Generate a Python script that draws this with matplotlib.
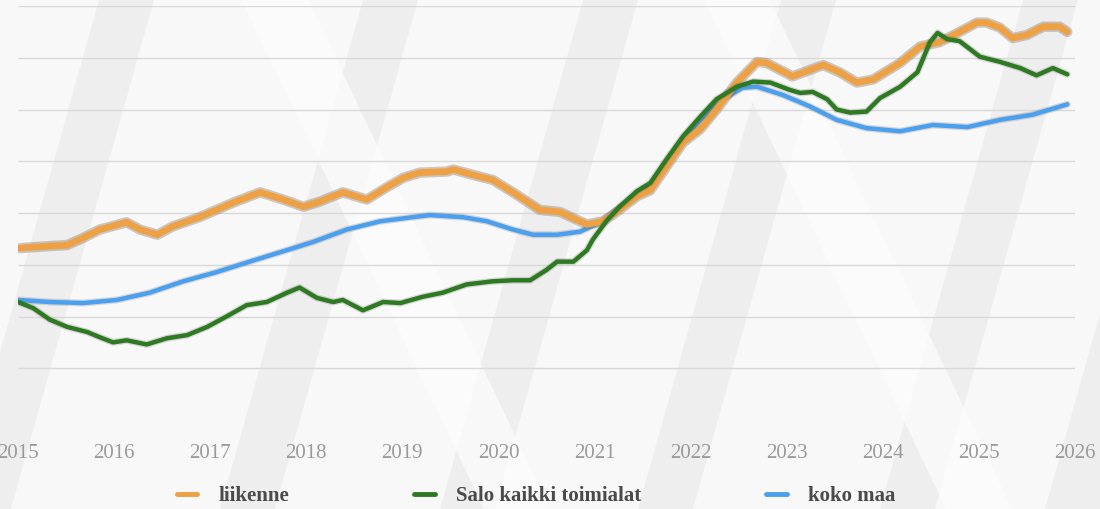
import matplotlib
matplotlib.use("Agg")
import matplotlib.pyplot as plt
import matplotlib.patheffects as pe
from matplotlib.patches import Polygon

# values (no y scale shown, index units)
liikenne_x = [2015.02, 2015.16, 2015.33, 2015.51, 2015.68, 2015.85, 2016.13, 2016.27, 2016.45, 2016.61,
              2016.89, 2017.24, 2017.52, 2017.76, 2017.97, 2018.14, 2018.38, 2018.63, 2018.84, 2019.01,
              2019.18, 2019.46, 2019.53, 2019.81, 2019.94, 2020.15, 2020.43, 2020.64, 2020.92, 2021.09,
              2021.23, 2021.44, 2021.58, 2021.92, 2022.10, 2022.27, 2022.48, 2022.69, 2022.79, 2023.06,
              2023.38, 2023.55, 2023.73, 2023.90, 2024.18, 2024.39, 2024.59, 2024.80, 2024.98, 2025.08,
              2025.22, 2025.35, 2025.50, 2025.67, 2025.84, 2025.92]
liikenne_y = [96.6, 96.7, 96.8, 96.9, 97.6, 98.4, 99.1, 98.4, 97.9, 98.7,
              99.6, 101.0, 102.0, 101.3, 100.6, 101.1, 102.0, 101.3, 102.5, 103.4,
              103.9, 104.0, 104.2, 103.5, 103.2, 102.0, 100.3, 100.1, 98.9, 99.2,
              100.1, 101.6, 102.2, 106.8, 108.1, 110.0, 112.6, 114.6, 114.5, 113.2,
              114.3, 113.6, 112.6, 112.9, 114.5, 116.1, 116.5, 117.5, 118.4, 118.4,
              117.9, 116.9, 117.2, 118.0, 118.0, 117.5]

salo_x = [2015.00, 2015.16, 2015.33, 2015.51, 2015.72, 2015.85, 2015.99, 2016.13, 2016.34, 2016.55,
          2016.76, 2016.97, 2017.17, 2017.38, 2017.59, 2017.80, 2017.93, 2018.11, 2018.28, 2018.38,
          2018.59, 2018.80, 2018.98, 2019.21, 2019.42, 2019.67, 2019.94, 2020.15, 2020.33, 2020.50,
          2020.61, 2020.78, 2020.92, 2020.98, 2021.13, 2021.26, 2021.44, 2021.58, 2021.75, 2021.92,
          2022.10, 2022.27, 2022.48, 2022.65, 2022.83, 2023.03, 2023.14, 2023.27, 2023.42, 2023.52,
          2023.66, 2023.83, 2023.97, 2024.18, 2024.36, 2024.49, 2024.57, 2024.67, 2024.80, 2025.01,
          2025.22, 2025.43, 2025.60, 2025.77, 2025.92]
salo_y = [91.4, 90.8, 89.7, 89.0, 88.5, 88.0, 87.5, 87.7, 87.3, 87.9,
          88.2, 89.0, 90.0, 91.1, 91.4, 92.3, 92.8, 91.8, 91.4, 91.6,
          90.6, 91.4, 91.3, 91.9, 92.3, 93.1, 93.4, 93.5, 93.5, 94.5,
          95.3, 95.3, 96.4, 97.4, 99.3, 100.6, 102.1, 102.9, 105.2, 107.4,
          109.3, 111.0, 112.2, 112.7, 112.6, 111.9, 111.6, 111.7, 111.0, 110.0,
          109.7, 109.8, 111.1, 112.2, 113.6, 116.5, 117.4, 116.8, 116.6, 115.1,
          114.6, 114.0, 113.3, 114.0, 113.4]

koko_x = [2015.00, 2015.33, 2015.68, 2016.03, 2016.37, 2016.72, 2017.07, 2017.41, 2017.76, 2018.07,
          2018.42, 2018.77, 2019.11, 2019.29, 2019.63, 2019.88, 2020.15, 2020.36, 2020.61, 2020.85,
          2021.06, 2021.23, 2021.58, 2021.92, 2022.10, 2022.34, 2022.54, 2022.69, 2022.96, 2023.24,
          2023.52, 2023.83, 2024.18, 2024.52, 2024.88, 2025.22, 2025.56, 2025.92]
koko_y = [91.6, 91.4, 91.3, 91.6, 92.3, 93.4, 94.3, 95.3, 96.3, 97.2,
          98.4, 99.2, 99.6, 99.8, 99.6, 99.2, 98.4, 97.9, 97.9, 98.2,
          99.1, 100.3, 102.5, 107.1, 109.0, 111.0, 112.1, 112.2, 111.4, 110.3,
          109.0, 108.2, 107.9, 108.5, 108.3, 109.0, 109.5, 110.5]

years = list(range(2015, 2027))
grid_levels = [85, 90, 95, 100, 105, 110, 115, 120]

fig = plt.figure(figsize=(11, 5.09), dpi=100)
fig.patch.set_facecolor("#f8f8f8")

# faint diagonal bands standing in for the faded photo behind the chart
for x0 in [-0.04, 0.2, 0.4, 0.58, 0.8, 0.95]:
    band = Polygon([(x0, 0), (x0 + 0.05, 0), (x0 + 0.18, 1), (x0 + 0.13, 1)],
                   closed=True, transform=fig.transFigure, facecolor="#ebebeb",
                   edgecolor="none", alpha=0.7, zorder=-2)
    fig.patches.append(band)
for x0 in [0.22, 0.64]:
    band = Polygon([(x0, 1), (x0 + 0.06, 1), (x0 + 0.28, 0), (x0 + 0.22, 0)],
                   closed=True, transform=fig.transFigure, facecolor="#fdfdfd",
                   edgecolor="none", alpha=0.7, zorder=-1)
    fig.patches.append(band)

ax = fig.add_axes([18 / 1100, 1 - 420 / 509, (1075 - 18) / 1100, 414 / 509])
ax.set_facecolor("none")
ax.set_zorder(2)
ax.set_xlim(2015, 2026)
ax.set_ylim(80, 120)

ax.hlines(grid_levels, 2015, 2026, color="#d9d9d9", lw=1.0, zorder=1)

shadow = [pe.Stroke(linewidth=7.5, foreground="#7a6a5a", alpha=0.35), pe.Normal()]
shadow_thin = [pe.Stroke(linewidth=5, foreground="#555555", alpha=0.2), pe.Normal()]

ax.plot(koko_x, koko_y, color="#4aa0ee", lw=3.2, solid_capstyle="round",
        path_effects=shadow_thin, zorder=3, label="koko maa")
ax.plot(liikenne_x, liikenne_y, color="#eda044", lw=4.8, solid_capstyle="round",
        path_effects=shadow, zorder=4, label="liikenne")
ax.plot(salo_x, salo_y, color="#2e7a22", lw=3.2, solid_capstyle="round",
        path_effects=shadow_thin, zorder=5, label="Salo kaikki toimialat")

ax.set_xticks(years)
ax.set_xticklabels([str(y) for y in years], fontfamily="Liberation Serif",
                   fontsize=15, color="#9a9a9a")
ax.tick_params(axis="x", length=0, pad=17)
ax.set_yticks([])
for s in ax.spines.values():
    s.set_visible(False)

h, l = ax.get_legend_handles_labels()
order = [1, 2, 0]
leg = fig.legend([h[i] for i in order], [l[i] for i in order], loc="center",
                 bbox_to_anchor=(0.487, 1 - 496 / 509), ncol=3, frameon=False,
                 handlelength=1.0, handletextpad=1.0, columnspacing=6.0,
                 prop={"family": "Liberation Serif", "size": 15, "weight": "bold"})
for t in leg.get_texts():
    t.set_color("#4a4a4a")
for ln in leg.get_lines():
    ln.set_linewidth(3.5)
    ln.set_path_effects([])

fig.savefig("out.png", dpi=100, facecolor=fig.get_facecolor())
